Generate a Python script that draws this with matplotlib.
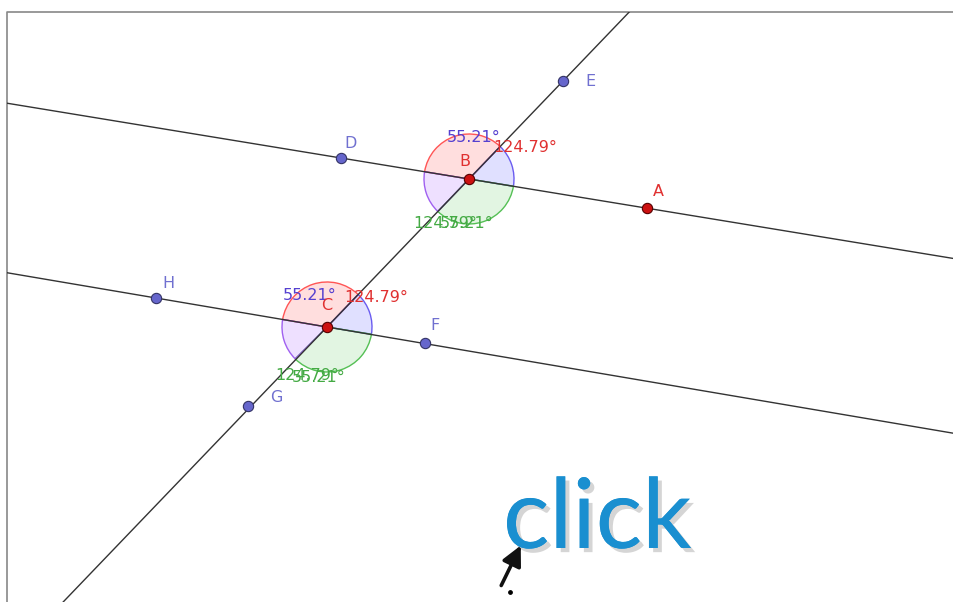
import numpy as np
import matplotlib.pyplot as plt
from matplotlib.patches import Wedge, Rectangle
import matplotlib.patheffects as pe

# point positions (pixel coords, y down)
names = ['A', 'B', 'C', 'D', 'E', 'F', 'G', 'H']
px = [647, 469, 327, 341, 563, 425, 248, 156]
py = [208, 179, 327, 158, 81, 343, 406, 298]
pt_colors = ['#cc1111', '#cc1111', '#cc1111', '#6666cc', '#6666cc', '#6666cc', '#6666cc', '#6666cc']
label_dx = [11, -4, 0, 10, 27, 10, 28, 12]
label_dy = [-16, -17, -21, -15, 0, -17, -9, -15]

angle_small = '55.21°'
angle_big = '124.79°'

P = {n: np.array([x, y], float) for n, x, y in zip(names, px, py)}

fig = plt.figure(figsize=(9.54, 6.02), dpi=100)
ax = fig.add_axes([0, 0, 1, 1])
ax.set_xlim(0, 954)
ax.set_ylim(602, 0)
ax.axis('off')

# frame of the graphics view
ax.plot([7, 7, 954], [602, 12, 12], color='#888888', lw=1.2)
view = Rectangle((7, 12), 960, 600, transform=ax.transData, facecolor='none', edgecolor='none')
ax.add_patch(view)


def full_line(p, q, color='#333333'):
    d = q - p
    t = np.linspace(-20, 20, 2)
    ln, = ax.plot(p[0] + t * d[0], p[1] + t * d[1], color=color, lw=1.0, zorder=3)
    ln.set_clip_path(view)


full_line(P['D'], P['B'])
full_line(P['H'], P['C'])
full_line(P['C'], P['B'])


def ang(a, b):
    d = b - a
    return np.degrees(np.arctan2(d[1], d[0])) % 360


def angle_marks(v, left, up, down, right, r=45):
    a_l, a_u, a_d, a_r = ang(v, left), ang(v, up), ang(v, down), ang(v, right)
    specs = [
        (a_l, a_u, '#ffdede', '#ff5555'),
        (a_u, a_r, '#e0e0ff', '#6a5cf0'),
        (a_r, a_d, '#e2f5e2', '#55c055'),
        (a_d, a_l, '#eee0ff', '#a060f0'),
    ]
    for t1, t2, fc, ec in specs:
        ax.add_patch(Wedge(v, r, t1, t2, facecolor=fc, edgecolor='none', zorder=1))
        ax.add_patch(Wedge(v, r, t1, t2, facecolor='none', edgecolor=ec, lw=1.0, zorder=2))


angle_marks(P['B'], P['D'], P['E'], P['C'], P['A'])
angle_marks(P['C'], P['H'], P['B'], P['G'], P['F'])

fs = 11.5
# angle labels around B
ax.text(447, 138, angle_small, color='#5540d0', fontsize=fs, va='center', zorder=5)
ax.text(493, 147, angle_big, color='#e03030', fontsize=fs, va='center', zorder=5)
ax.text(413, 223, angle_big, color='#44aa44', fontsize=fs, va='center', zorder=5)
ax.text(440, 224, angle_small, color='#44aa44', fontsize=fs, va='center', zorder=5)
# angle labels around C
ax.text(283, 296, angle_small, color='#5540d0', fontsize=fs, va='center', zorder=5)
ax.text(344, 297, angle_big, color='#e03030', fontsize=fs, va='center', zorder=5)
ax.text(275, 376, angle_big, color='#44aa44', fontsize=fs, va='center', zorder=5)
ax.text(292, 378, angle_small, color='#44aa44', fontsize=fs, va='center', zorder=5)

for n, c, dx, dy in zip(names, pt_colors, label_dx, label_dy):
    x, y = P[n]
    ax.scatter([x], [y], s=55, color=c, edgecolors='#333366' if c != '#cc1111' else '#550000',
               linewidths=0.8, zorder=6)
    lc = '#e03030' if c == '#cc1111' else '#7070d0'
    ax.text(x + dx, y + dy, n, color=lc, fontsize=11.5, ha='center', va='center', zorder=7)

# "click" overlay with soft shadow
ax.text(503, 548, 'click', color='#1a8fd0', fontsize=70, family='Lato',
        ha='left', va='baseline', zorder=8,
        path_effects=[pe.withSimplePatchShadow(offset=(3, -3), shadow_rgbFace='#888888', alpha=0.35),
                      pe.Normal()])

# mouse cursor
ax.annotate('', xy=(522, 543), xytext=(500, 588),
            arrowprops=dict(arrowstyle='-|>,head_width=0.6,head_length=1.2', color='#111111', lw=2.6),
            zorder=9)
ax.scatter([510], [592], s=6, color='black', zorder=9)

fig.savefig('out.png', dpi=100)
